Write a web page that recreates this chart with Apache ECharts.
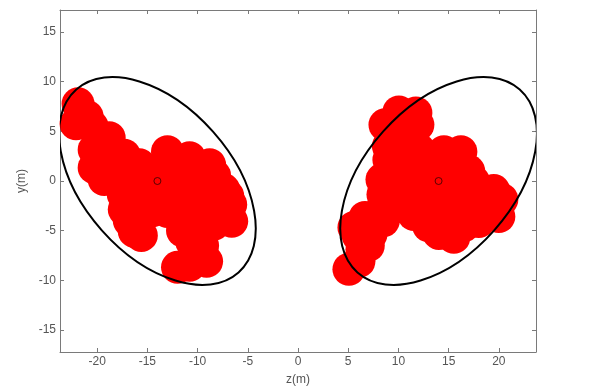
<!DOCTYPE html>
<html>
<head>
<meta charset="utf-8">
<script src="https://cdn.jsdelivr.net/npm/echarts@6/dist/echarts.min.js"></script>
<style>html,body{margin:0;padding:0;background:#fff}#c{width:599px;height:391px}</style>
</head>
<body>
<div id="c"></div>
<script>
// Left cluster of points [z, y]
const leftPoints = [
  [-21.9,7.76],[-22.1,5.75],[-20.3,3.15],[-20.3,1.34],[-18.8,4.35],[-17.3,2.6],[-19.3,0.14],
  [-15.8,1.64],[-17.8,0.64],[-15.8,-0.36],[-13.0,2.95],[-10.8,2.34],[-8.8,1.64],[-8.3,0.54],
  [-6.7,-2.36],[-6.6,-4.05],[-8.4,-4.35],[-9.1,-8.08],[-10.8,-8.48],[-12.0,-8.68],[-10.3,-6.35],
  [-9.9,-1.86],[-11.8,-0.86],[-13.8,0.14],[-13.3,-2.87],[-11.3,-3.87],[-17.3,-2.87],[-16.3,-5.07],
  [-15.6,-5.47],[-13.0,-3.07],[-10.6,-6.07],[-14.8,0.64],[-7.4,-0.86],[-14.8,-1.86],[-17.4,-1.36],
  [-12.3,1.14],[-9.4,-0.06],
  [-20.5,5.5],[-19.0,2.5],[-16.5,1.5],[-14.5,-0.5],[-12.5,-1.5],[-11.0,-1.5],
  [-10.0,0.5],[-8.0,-2.0],[-8.0,-3.0],[-9.5,-4.0],[-11.5,-5.0],[-14.5,-3.0],[-9.5,-6.5],
  [-10.0,-7.5],[-16.8,-4.0],[-16.0,-1.0],[-12.0,0.0],[-7.0,-1.5],[-18.5,1.5],[-21.0,6.5]
];
// Right cluster of points [z, y]
const rightPoints = [
  [10.05,6.95],[11.74,6.85],[8.66,5.65],[11.94,5.65],[9.55,4.15],[9.05,2.14],[8.36,0.14],
  [8.46,-1.36],[10.55,2.14],[11.04,-0.86],[14.53,2.95],[16.22,2.95],[13.03,2.14],[19.5,-0.96],
  [20.3,-1.86],[20.0,-3.57],[18.0,-1.86],[16.0,0.64],[14.03,0.14],[12.54,-1.86],[15.02,-2.87],
  [17.0,-3.37],[15.52,-5.67],[14.03,-5.27],[11.54,-3.37],[10.05,-2.36],[18.0,-4.07],[6.67,-3.67],
  [5.57,-4.67],[7.26,-5.37],[5.07,-8.88],[6.07,-8.08],[6.37,-6.87],[7.86,-4.07],[17.5,-0.06],
  [12.04,3.15],
  [10.0,-1.0],[12.0,0.5],[13.0,-0.5],[12.5,-3.5],[13.5,-3.0],[16.0,-1.5],[17.5,-2.5],
  [18.5,-3.0],[15.0,-4.0],[16.5,-4.5],[13.0,-4.5],[9.0,-3.0],[8.5,-2.5],[10.0,1.0],
  [11.0,4.0],[9.0,3.5],[12.5,1.0],[14.0,1.5],[17.0,1.0],[19.0,-2.5],[15.0,-1.0],
  [7.0,-6.5],[8.5,-4.0],[6.0,-5.5]
];
// Cluster centres [z, y]
const centers = [[-14,0],[14,0]];
// Ellipses: [centre z, centre y, semi-major, semi-minor, angle deg]
const ellipses = [[-14,0,12.23,7.44,131.6],[14,0,12.23,7.44,48.4]];
// Tick values
const xTicks = [-20,-15,-10,-5,0,5,10,15,20];
const yTicks = [-15,-10,-5,0,5,10,15];

const axisColor = '#7a7a7a';
const textColor = '#555';
const font = 'Liberation Sans, Arial, sans-serif';

const chart = echarts.init(document.getElementById('c'));
const xAxisBase = {
  type:'value', min:-23.7, max:23.7, interval:5,
  axisLine:{show:true,onZero:false,lineStyle:{color:axisColor,width:1}},
  axisTick:{show:true,inside:true,length:4,lineStyle:{color:axisColor},customValues:xTicks},
  splitLine:{show:false}
};
const yAxisBase = {
  type:'value', min:-17.2, max:17.2, interval:5,
  axisLine:{show:true,onZero:false,lineStyle:{color:axisColor,width:1}},
  axisTick:{show:true,inside:true,length:4,lineStyle:{color:axisColor},customValues:yTicks},
  splitLine:{show:false}
};
chart.setOption({
  animation:false,
  grid:{left:60,right:63,top:10,bottom:38},
  xAxis:[
    Object.assign({}, xAxisBase, {position:'bottom', name:'z(m)', nameLocation:'middle', nameGap:22,
      nameTextStyle:{color:textColor,fontFamily:font,fontSize:12},
      axisLabel:{show:true,color:textColor,fontFamily:font,fontSize:12,margin:4,customValues:xTicks}}),
    Object.assign({}, xAxisBase, {position:'top', axisLabel:{show:false}})
  ],
  yAxis:[
    Object.assign({}, yAxisBase, {position:'left', name:'y(m)', nameLocation:'middle', nameGap:22,
      nameTextStyle:{color:textColor,fontFamily:font,fontSize:12},
      axisLabel:{show:true,color:textColor,fontFamily:font,fontSize:12,margin:4,customValues:yTicks}}),
    Object.assign({}, yAxisBase, {position:'right', axisLabel:{show:false}})
  ],
  series:[
    {type:'scatter', data:leftPoints, symbol:'circle', symbolSize:33, itemStyle:{color:'#ff0000',opacity:1}, silent:true, z:2},
    {type:'scatter', data:rightPoints, symbol:'circle', symbolSize:33, itemStyle:{color:'#ff0000',opacity:1}, silent:true, z:2},
    {type:'custom', data:ellipses, z:3, silent:true, clip:true,
      renderItem:function(params, api){
        const c = api.coord([api.value(0), api.value(1)]);
        const sa = api.size([api.value(2), api.value(2)]);
        const sb = api.size([api.value(3), api.value(3)]);
        const ang = api.value(4) * Math.PI / 180;
        return {type:'ellipse', x:c[0], y:c[1], rotation:ang,
          shape:{cx:0, cy:0, rx:(sa[0]+sa[1])/2, ry:(sb[0]+sb[1])/2},
          style:{fill:null, stroke:'#000', lineWidth:2}};
      }},
    {type:'scatter', data:centers, symbol:'circle', symbolSize:7, z:4, silent:true,
      itemStyle:{color:'rgba(0,0,0,0)', borderColor:'#300', borderWidth:1}}
  ]
});
</script>
</body>
</html>
